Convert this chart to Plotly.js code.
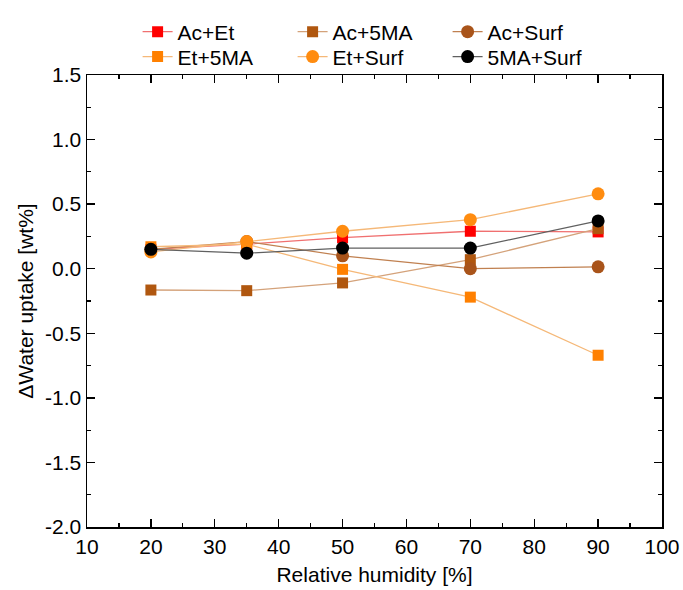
<!DOCTYPE html>
<html>
<head>
<meta charset="utf-8">
<script src="https://cdn.plot.ly/plotly-3.0.1.min.js"></script>
<style>
  html, body { margin: 0; padding: 0; background: #ffffff; }
  #chart { width: 683px; height: 590px; }
</style>
</head>
<body>
<div id="chart"></div>
<script>
// Relative humidity steps [%]
const humidity = [20, 35, 50, 70, 90];

// Change in water uptake [wt%] for each binary mixture
const acEt     = [0.15, 0.19, 0.24, 0.29, 0.285];
const ac5MA    = [-0.165, -0.17, -0.11, 0.07, 0.31];
const acSurf   = [0.15, 0.21, 0.10, 0.00, 0.015];
const et5MA    = [0.17, 0.19, -0.005, -0.22, -0.67];
const etSurf   = [0.13, 0.21, 0.29, 0.38, 0.58];
const ma5Surf  = [0.15, 0.12, 0.16, 0.16, 0.37];

const seriesNames = ['Ac+Et', 'Ac+5MA', 'Ac+Surf', 'Et+5MA', 'Et+Surf', '5MA+Surf'];

const FONT = 'Liberation Sans, Arial, sans-serif';
const FS = 21;

function series(name, y, symbol, markerColor, lineColor, size, legendId) {
  return {
    type: 'scatter',
    mode: 'lines+markers',
    name: name,
    x: humidity,
    y: y,
    legend: legendId,
    line: { color: lineColor, width: 1.3 },
    marker: { symbol: symbol, color: markerColor, size: size, line: { width: 0 } },
    cliponaxis: false
  };
}

const traces = [
  series(seriesNames[0], acEt,    'square', '#ff0000', '#f07070', 11, 'legend'),
  series(seriesNames[1], ac5MA,   'square', '#b0570f', '#d4a27a', 11, 'legend'),
  series(seriesNames[2], acSurf,  'circle', '#a9541a', '#c08050', 13, 'legend'),
  series(seriesNames[3], et5MA,   'square', '#ff8000', '#f5b878', 11, 'legend2'),
  series(seriesNames[4], etSurf,  'circle', '#ff8c10', '#f5b878', 13, 'legend2'),
  series(seriesNames[5], ma5Surf, 'circle', '#000000', '#606060', 13, 'legend2')
];

const axisCommon = {
  showline: true,
  linecolor: '#000000',
  linewidth: 1.5,
  mirror: 'ticks',
  ticks: 'inside',
  ticklen: 8,
  tickwidth: 1.3,
  tickcolor: '#000000',
  showgrid: false,
  zeroline: false,
  tickfont: { family: FONT, size: FS, color: '#000000' }
};

// one legend per row, three entries each
function legendRow(yPos) {
  return {
    orientation: 'h',
    x: 0.088,
    xanchor: 'left',
    y: yPos,
    yanchor: 'middle',
    entrywidth: 110,
    entrywidthmode: 'pixels',
    font: { family: FONT, size: FS, color: '#000000' },
    bgcolor: 'rgba(0,0,0,0)'
  };
}

const layout = {
  width: 683,
  height: 590,
  margin: { l: 87, r: 21, t: 75, b: 63, autoexpand: false },
  paper_bgcolor: '#ffffff',
  plot_bgcolor: '#ffffff',
  font: { family: FONT, color: '#000000' },
  showlegend: true,
  legend: legendRow(1.095),
  legend2: legendRow(1.04),
  xaxis: Object.assign({}, axisCommon, {
    range: [10, 100],
    tickvals: [10, 20, 30, 40, 50, 60, 70, 80, 90, 100],
    ticktext: ['10', '20', '30', '40', '50', '60', '70', '80', '90', '100'],
    minor: { dtick: 5, tick0: 10, ticks: 'inside', ticklen: 4, tickwidth: 1.2, tickcolor: '#000000' },
    title: { text: 'Relative humidity [%]', font: { family: FONT, size: FS, color: '#000000' }, standoff: 10 }
  }),
  yaxis: Object.assign({}, axisCommon, {
    range: [-2.0, 1.5],
    tickvals: [-2.0, -1.5, -1.0, -0.5, 0.0, 0.5, 1.0, 1.5],
    ticktext: ['-2.0', '-1.5', '-1.0', '-0.5', '0.0', '0.5', '1.0', '1.5'],
    minor: { dtick: 0.25, tick0: 0, ticks: 'inside', ticklen: 4, tickwidth: 1.2, tickcolor: '#000000' },
    title: { text: 'ΔWater uptake [wt%]', font: { family: FONT, size: FS, color: '#000000' }, standoff: 6 }
  })
};

Plotly.newPlot('chart', traces, layout, { staticPlot: true, displayModeBar: false });
</script>
</body>
</html>
